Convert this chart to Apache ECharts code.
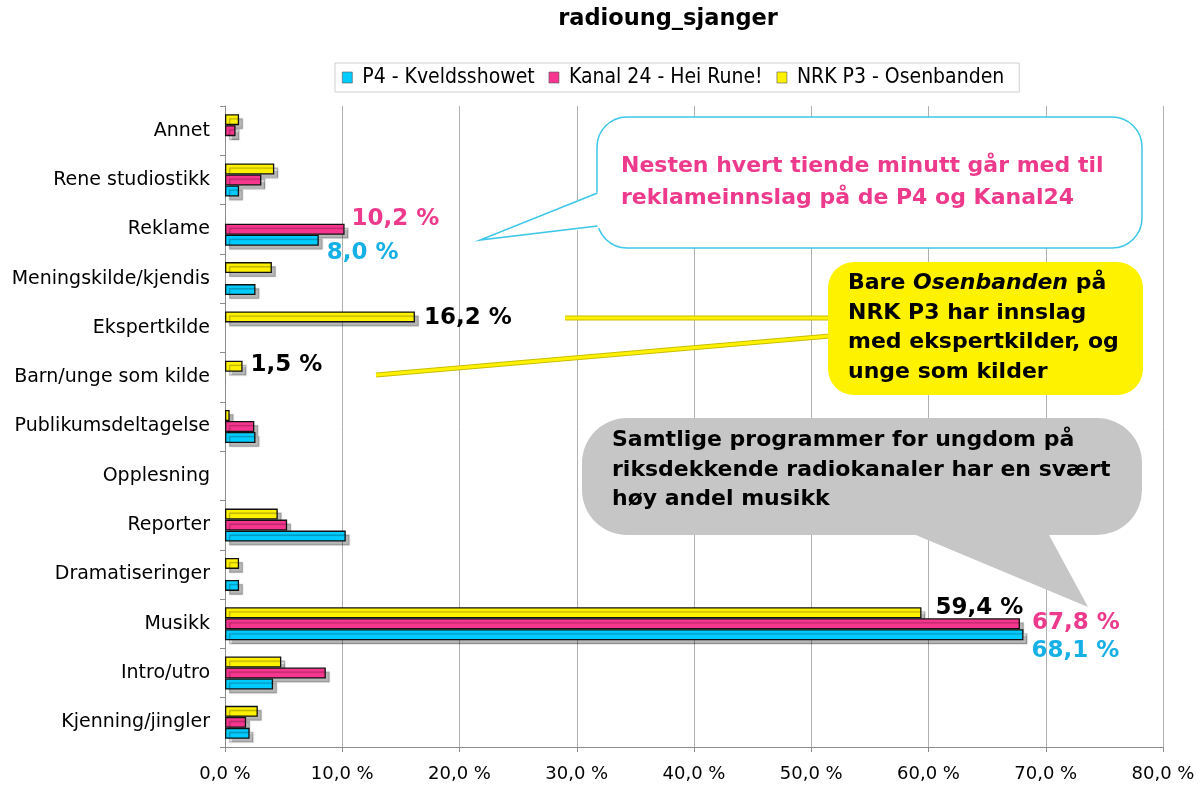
<!DOCTYPE html>
<html><head><meta charset="utf-8">
<script src="https://cdn.jsdelivr.net/npm/echarts@6/dist/echarts.min.js"></script>
<style>html,body{margin:0;padding:0;background:#fff}#c{width:1200px;height:785px}</style>
</head><body><div id="c"></div>
<script>
const categories = ['Annet','Rene studiostikk','Reklame','Meningskilde/kjendis','Ekspertkilde','Barn/unge som kilde','Publikumsdeltagelse','Opplesning','Reporter','Dramatiseringer','Musikk','Intro/utro','Kjenning/jingler'];
const seriesNames = ['P4 - Kveldsshowet','Kanal 24 - Hei Rune!','NRK P3 - Osenbanden'];
const p4 =      [0,   1.2, 8.0,  2.6, 0,    0,   2.6, 0, 10.3, 1.2, 68.1, 4.1, 2.1];
const kanal24 = [0.9, 3.1, 10.2, 0,   0,    0,   2.5, 0, 5.3,  0,   67.8, 8.6, 1.8];
const nrkp3 =   [1.2, 4.2, 0,    4.0, 16.2, 1.5, 0.4, 0, 4.5,  1.2, 59.4, 4.8, 2.8];
const tickLabels = ['0,0 %','10,0 %','20,0 %','30,0 %','40,0 %','50,0 %','60,0 %','70,0 %','80,0 %'];

const FONT = '"DejaVu Sans", Verdana, sans-serif';
const fmt = p => p.value.toFixed(1).replace('.', ',') + ' %';

function mk(name, vals, color, labelColor, labelSpec) {
  return {
    name, type: 'bar', barWidth: 11, barGap: '0%',
    itemStyle: { color, borderColor: '#111', borderWidth: 1.3,
      shadowColor: 'rgba(0,0,0,0.28)', shadowBlur: 1, shadowOffsetX: 4, shadowOffsetY: 4 },
    data: vals.map((v, i) => {
      if (v === 0) return '-';
      const item = { value: v };
      if (labelSpec[i]) item.label = Object.assign({ show: true, position: 'right', formatter: fmt,
        fontFamily: FONT, fontWeight: 'bold', fontSize: 23, color: labelColor }, labelSpec[i]);
      return item;
    })
  };
}

const chart = echarts.init(document.getElementById('c'));
chart.setOption({
  animation: false,
  backgroundColor: '#fff',
  title: { text: 'radioung_sjanger', left: 668, top: 8, textAlign: 'center', padding: 0,
    textStyle: { fontFamily: FONT, fontWeight: 'bold', fontSize: 22.5, color: '#000' } },
  legend: {
    data: seriesNames, left: 335, top: 63, icon: 'rect', itemWidth: 10, itemHeight: 11, itemGap: 14,
    padding: [4, 15, 4, 7], borderColor: '#cfcfcf', borderWidth: 1,
    itemStyle: { borderWidth: 0.6, borderColor: '#555', shadowBlur: 0, shadowOffsetX: 0, shadowOffsetY: 0 },
    textStyle: { fontFamily: '"DejaVu Sans Condensed", "DejaVu Sans", sans-serif', fontSize: 21, color: '#000', padding: [0, 0, 0, 5] }
  },
  grid: { left: 225, right: 37, top: 106, bottom: 38 },
  xAxis: {
    type: 'value', min: 0, max: 80, interval: 10,
    axisLine: { show: true, lineStyle: { color: '#8c8c8c', width: 1 } },
    axisTick: { show: true, length: 5, lineStyle: { color: '#8c8c8c' } },
    splitLine: { show: true, lineStyle: { color: '#b0b0b0', width: 1 } },
    axisLabel: { margin: 18, fontFamily: FONT, fontSize: 18, color: '#000', formatter: v => tickLabels[Math.round(v / 10)] }
  },
  yAxis: {
    type: 'category', data: categories, inverse: true,
    axisLine: { show: true, lineStyle: { color: '#8c8c8c', width: 1 } },
    axisTick: { show: true, length: 5, lineStyle: { color: '#8c8c8c' } },
    splitLine: { show: false },
    axisLabel: { margin: 15, fontFamily: FONT, fontSize: 19, color: '#000' }
  },
  series: [
    mk(seriesNames[2], nrkp3, '#fff200', '#000', { 4: { distance: 9, offset: [0, 1] }, 5: { distance: 8, offset: [0, -1] }, 10: { distance: 14, offset: [0, -5] } }),
    mk(seriesNames[1], kanal24, '#f7378f', '#ee3a8c', { 2: { distance: 7, offset: [0, -10] }, 10: { distance: 12, offset: [0, -1] } }),
    mk(seriesNames[0], p4, '#00ccff', '#16b0e6', { 2: { distance: 8, offset: [0, 13] }, 10: { distance: 8, offset: [0, 16] } })
  ],
  graphic: [
    { type: 'rect', z: 50, shape: { x: 597, y: 117, width: 545, height: 131, r: 30 },
      style: { fill: '#fff', stroke: '#3cc6e8', lineWidth: 1.5 } },
    { type: 'polygon', z: 51, shape: { points: [[600, 191], [480, 240], [600, 228]] }, style: { fill: '#fff' } },
    { type: 'polyline', z: 52, shape: { points: [[597.5, 193], [480, 240], [597.5, 226]] }, style: { stroke: '#3cc6e8', lineWidth: 1.5, fill: null } },
    { type: 'text', z: 53, style: { x: 621, y: 150, text: 'Nesten hvert tiende minutt går med til\nreklameinnslag på de P4 og Kanal24',
      font: 'bold 22px ' + FONT, fill: '#ee3a8c', lineHeight: 32, verticalAlign: 'top' } },
    { type: 'line', z: 50, shape: { x1: 565, y1: 318, x2: 830, y2: 318 }, style: { stroke: '#c9bd00', lineWidth: 5 } },
    { type: 'line', z: 50, shape: { x1: 565, y1: 318, x2: 830, y2: 318 }, style: { stroke: '#fff200', lineWidth: 3 } },
    { type: 'line', z: 50, shape: { x1: 376, y1: 375, x2: 830, y2: 336 }, style: { stroke: '#c9bd00', lineWidth: 5 } },
    { type: 'line', z: 50, shape: { x1: 376, y1: 375, x2: 830, y2: 336 }, style: { stroke: '#fff200', lineWidth: 3 } },
    { type: 'rect', z: 51, shape: { x: 828, y: 262, width: 315, height: 133, r: 26 }, style: { fill: '#fff200' } },
    { type: 'text', z: 52, style: { x: 848, y: 269, text: 'Bare {i|Osenbanden} på\nNRK P3 har innslag\nmed ekspertkilder, og\nunge som kilder',
      font: 'bold 22px ' + FONT, fill: '#000', lineHeight: 29.5, verticalAlign: 'top',
      rich: { i: { fontStyle: 'italic', fontWeight: 'bold', fontSize: 22, fontFamily: FONT, fill: '#000', lineHeight: 29.5 } } } },
    { type: 'rect', z: 50, shape: { x: 582, y: 418, width: 560, height: 117, r: 45 }, style: { fill: '#c6c6c6' } },
    { type: 'polygon', z: 50, shape: { points: [[911, 533], [1088, 607], [1048, 533]] }, style: { fill: '#c6c6c6' } },
    { type: 'text', z: 51, style: { x: 612, y: 426, text: 'Samtlige programmer for ungdom på\nriksdekkende radiokanaler har en svært\nhøy andel musikk',
      font: 'bold 22px ' + FONT, fill: '#000', lineHeight: 29.5, verticalAlign: 'top' } }
  ]
});
</script></body></html>
